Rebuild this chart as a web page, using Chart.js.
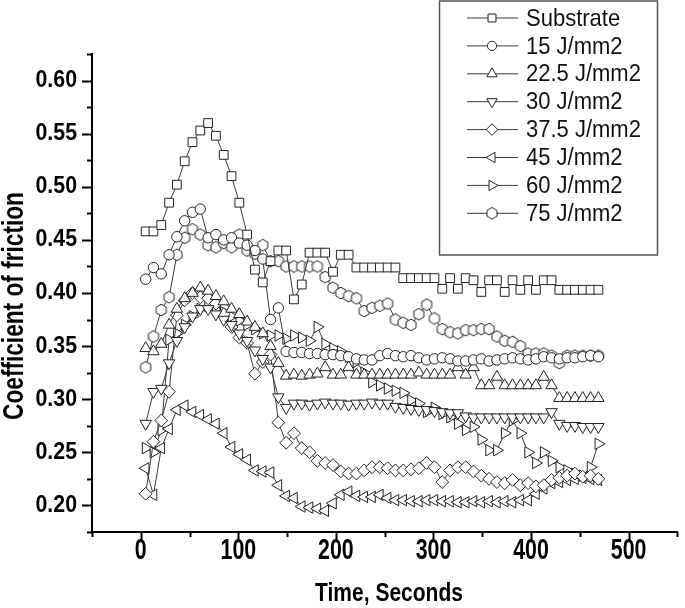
<!DOCTYPE html>
<html>
<head>
<meta charset="utf-8">
<title>Coefficient of friction</title>
<script src="https://cdn.jsdelivr.net/npm/chart.js@4.4.0/dist/chart.umd.min.js"></script>
<style>
  body { margin: 0; background: #fff; }
  canvas { display: block; }
</style>
</head>
<body>
<canvas id="myChart" width="685" height="608"></canvas>
<script>
// time axis (seconds)
const time = [5,13,21,29,37,45,53,61,69,77,85,93,101,109,117,125,133,141,149,157,165,173,181,189,197,205,213,221,229,237,245,253,261,269,277,285,293,301,309,317,325,333,341,349,357,365,373,381,389,397,405,413,421,429,437,445,453,461,469];

// series names
const seriesNames = ['Substrate', '15 J/mm2', '22.5 J/mm2', '30 J/mm2', '37.5 J/mm2', '45 J/mm2', '60 J/mm2', '75 J/mm2'];

// coefficient of friction values
const substrate = [0.458,0.458,0.464,0.485,0.502,0.524,0.542,0.553,0.560,0.548,0.530,0.510,0.485,0.455,0.422,0.410,0.430,0.440,0.440,0.394,0.408,0.438,0.438,0.438,0.420,0.436,0.436,0.424,0.424,0.424,0.424,0.424,0.424,0.414,0.414,0.414,0.414,0.414,0.404,0.414,0.404,0.414,0.412,0.401,0.412,0.412,0.401,0.412,0.403,0.412,0.403,0.412,0.412,0.403,0.403,0.403,0.403,0.403,0.403];
const j15 = [0.413,0.424,0.418,0.436,0.453,0.468,0.476,0.479,0.452,0.455,0.450,0.452,0.447,0.445,0.440,0.432,0.375,0.386,0.345,0.344,0.344,0.343,0.343,0.342,0.342,0.341,0.340,0.338,0.337,0.337,0.341,0.343,0.341,0.340,0.341,0.339,0.337,0.338,0.339,0.338,0.336,0.336,0.337,0.338,0.336,0.337,0.338,0.339,0.338,0.337,0.338,0.340,0.339,0.338,0.339,0.339,0.340,0.341,0.340];
const j22_5 = [0.348,0.345,0.352,0.370,0.385,0.395,0.400,0.405,0.402,0.397,0.392,0.385,0.380,0.373,0.368,0.362,0.350,0.334,0.322,0.323,0.322,0.323,0.324,0.330,0.323,0.323,0.330,0.323,0.323,0.323,0.323,0.323,0.323,0.323,0.323,0.325,0.323,0.323,0.323,0.323,0.330,0.323,0.330,0.313,0.313,0.321,0.313,0.313,0.313,0.313,0.313,0.321,0.313,0.301,0.301,0.301,0.301,0.301,0.301];
const j30 = [0.277,0.307,0.310,0.334,0.355,0.368,0.378,0.385,0.385,0.380,0.375,0.370,0.362,0.355,0.346,0.338,0.330,0.302,0.292,0.296,0.296,0.295,0.296,0.297,0.296,0.296,0.295,0.296,0.296,0.297,0.296,0.296,0.293,0.292,0.291,0.290,0.290,0.289,0.288,0.287,0.287,0.284,0.283,0.283,0.283,0.283,0.283,0.283,0.283,0.283,0.283,0.283,0.288,0.277,0.275,0.275,0.274,0.274,0.274];
const j37_5 = [0.211,0.260,0.280,0.307,0.379,0.393,0.400,0.396,0.395,0.390,0.380,0.368,0.358,0.353,0.324,0.335,0.342,0.278,0.259,0.268,0.254,0.250,0.242,0.240,0.238,0.232,0.230,0.230,0.233,0.236,0.236,0.235,0.233,0.233,0.234,0.235,0.240,0.236,0.222,0.233,0.236,0.236,0.232,0.228,0.225,0.222,0.221,0.224,0.219,0.221,0.218,0.219,0.224,0.226,0.228,0.230,0.227,0.228,0.225];
const j45 = [0.235,0.210,0.254,0.272,0.290,0.294,0.288,0.285,0.281,0.277,0.268,0.255,0.248,0.243,0.233,0.232,0.231,0.219,0.209,0.207,0.199,0.198,0.197,0.195,0.202,0.210,0.213,0.209,0.208,0.208,0.210,0.207,0.205,0.205,0.204,0.204,0.205,0.205,0.204,0.204,0.203,0.203,0.204,0.203,0.204,0.203,0.204,0.203,0.205,0.205,0.211,0.216,0.221,0.222,0.224,0.225,0.226,0.225,0.224];
const j60 = [0.254,0.250,0.271,0.356,0.362,0.370,0.378,0.385,0.388,0.385,0.382,0.378,0.374,0.370,0.366,0.362,0.360,0.360,0.357,0.360,0.358,0.355,0.368,0.352,0.348,0.345,0.340,0.335,0.325,0.316,0.313,0.310,0.308,0.306,0.299,0.296,0.288,0.292,0.286,0.283,0.277,0.271,0.274,0.262,0.252,0.252,0.268,0.280,0.268,0.250,0.240,0.250,0.242,0.236,0.233,0.230,0.228,0.236,0.258];
const j75 = [0.330,0.359,0.384,0.396,0.436,0.452,0.460,0.455,0.445,0.443,0.447,0.443,0.455,0.440,0.437,0.445,0.430,0.430,0.425,0.425,0.425,0.425,0.425,0.415,0.405,0.400,0.397,0.395,0.383,0.386,0.388,0.390,0.375,0.372,0.370,0.380,0.389,0.376,0.366,0.363,0.362,0.365,0.365,0.366,0.366,0.359,0.355,0.354,0.350,0.343,0.343,0.343,0.341,0.334,0.341,0.341,0.341,0.341,0.341];

const allValues = [substrate, j15, j22_5, j30, j37_5, j45, j60, j75];

// tick labels
const xTickLabels = [0, 100, 200, 300, 400, 500];
const yTickLabels = ['0.20', '0.25', '0.30', '0.35', '0.40', '0.45', '0.50', '0.55', '0.60'];

// hexagon marker for 75 J/mm2 (no built in style for it)
function makeHexagon(r) {
    const c = document.createElement('canvas');
    c.width = 2 * r + 3;
    c.height = 2 * r + 3;
    const g = c.getContext('2d');
    const cx = c.width / 2, cy = c.height / 2;
    g.beginPath();
    for (let i = 0; i < 6; i++) {
        const a = Math.PI / 3 * i;
        const px = cx + r * Math.sin(a);
        const py = cy - r * Math.cos(a);
        if (i === 0) g.moveTo(px, py); else g.lineTo(px, py);
    }
    g.closePath();
    g.fillStyle = '#fff';
    g.fill();
    g.lineWidth = 1;
    g.strokeStyle = '#222';
    g.stroke();
    return c;
}
const hexagon = makeHexagon(5.8);

// marker styles, same order as seriesNames
const markers = [
    { style: 'rect', rotation: 0, radius: 6.2 },
    { style: 'circle', rotation: 0, radius: 5.2 },
    { style: 'triangle', rotation: 0, radius: 6.6 },
    { style: 'triangle', rotation: 180, radius: 6.6 },
    { style: 'rectRot', rotation: 0, radius: 6.4 },
    { style: 'triangle', rotation: 270, radius: 6.6 },
    { style: 'triangle', rotation: 90, radius: 6.6 },
    { style: hexagon, rotation: 0, radius: 6 }
];

const datasets = seriesNames.map((name, i) => ({
    label: name,
    data: time.map((t, k) => ({ x: t, y: allValues[i][k] })),
    borderColor: '#3a3a3a',
    borderWidth: 1,
    pointStyle: markers[i].style,
    rotation: markers[i].rotation,
    pointRadius: markers[i].radius,
    pointHoverRadius: markers[i].radius,
    pointBorderColor: '#222',
    pointBackgroundColor: '#fff',
    pointBorderWidth: 1,
    tension: 0,
    fill: false
}));

const FONT = '"Liberation Sans", Arial, sans-serif';

// text that is a bit taller than the font (the original figure is stretched)
function stretchedText(ctx, text, x, y, font, sx, sy, align, angle) {
    ctx.save();
    ctx.translate(x, y);
    if (angle) ctx.rotate(angle);
    ctx.scale(sx, sy);
    ctx.font = font;
    ctx.textAlign = align;
    ctx.textBaseline = 'middle';
    ctx.fillText(text, 0, 0);
    ctx.restore();
}

// tick marks, tick labels, axis titles and the boxed legend
const extras = {
    id: 'extras',
    afterDraw(chart) {
        const ctx = chart.ctx;
        const xs = chart.scales.x;
        const ys = chart.scales.y;
        const area = chart.chartArea;
        ctx.save();
        ctx.strokeStyle = '#000';
        ctx.lineWidth = 2;

        // y ticks every 0.025, long ones on the labelled values
        for (let k = 0; k <= 18; k++) {
            const v = 0.175 + k * 0.025;
            const py = Math.round(ys.getPixelForValue(v)) + 0.5;
            const major = k % 2 === 1;
            ctx.beginPath();
            ctx.moveTo(area.left, py);
            ctx.lineTo(area.left - (major ? 10 : 5), py);
            ctx.stroke();
        }
        // x ticks every 50
        for (let v = -50; v <= 550; v += 50) {
            const px = Math.round(xs.getPixelForValue(v)) + 0.5;
            const major = v % 100 === 0;
            ctx.beginPath();
            ctx.moveTo(px, area.bottom);
            ctx.lineTo(px, area.bottom + (major ? 9 : 5));
            ctx.stroke();
        }

        ctx.fillStyle = '#000';
        // tick labels
        yTickLabels.forEach((lab) => {
            stretchedText(ctx, lab, area.left - 15, ys.getPixelForValue(parseFloat(lab)),
                'bold 22px ' + FONT, 0.97, 1.06, 'right', 0);
        });
        xTickLabels.forEach((lab) => {
            stretchedText(ctx, String(lab), xs.getPixelForValue(lab), area.bottom + 19,
                'bold 22px ' + FONT, 0.97, 1.35, 'center', 0);
        });

        // axis titles
        stretchedText(ctx, 'Time, Seconds', 389, 594, 'bold 22px ' + FONT, 0.955, 1.18, 'center', 0);
        stretchedText(ctx, 'Coefficient of friction', 15, 306, 'bold 22px ' + FONT, 1.03, 1.3, 'center', -Math.PI / 2);

        // legend box
        ctx.strokeStyle = '#555';
        ctx.lineWidth = 1.5;
        ctx.strokeRect(439.5, 1, 218, 254);
        for (let i = 0; i < seriesNames.length; i++) {
            const cy = 18 + i * 27.9;
            ctx.strokeStyle = '#3a3a3a';
            ctx.lineWidth = 1;
            ctx.beginPath();
            ctx.moveTo(467, cy);
            ctx.lineTo(518, cy);
            ctx.stroke();
            ctx.fillStyle = '#fff';
            ctx.strokeStyle = '#222';
            Chart.helpers.drawPoint(ctx, {
                pointStyle: markers[i].style,
                rotation: markers[i].rotation,
                radius: markers[i].radius - 0.6,
                borderWidth: 1
            }, 492, cy);
            ctx.fillStyle = '#111';
            stretchedText(ctx, seriesNames[i], 526, cy + 1, '22px ' + FONT, 1.0, 1.1, 'left', 0);
        }
        ctx.restore();
    }
};

const ctx = document.getElementById('myChart').getContext('2d');
const myChart = new Chart(ctx, {
    type: 'line',
    data: { datasets: datasets },
    options: {
        responsive: false,
        animation: false,
        devicePixelRatio: 1,
        layout: { padding: { top: 54, right: 0, left: 0, bottom: 0 } },
        plugins: {
            legend: { display: false },
            tooltip: { enabled: false }
        },
        scales: {
            x: {
                type: 'linear',
                min: -50,
                max: 550,
                grid: { display: false, drawTicks: false },
                border: { display: true, color: '#000', width: 2 },
                ticks: { display: false },
                afterFit: (scale) => { scale.height = 76; }
            },
            y: {
                type: 'linear',
                min: 0.175,
                max: 0.625,
                grid: { display: false, drawTicks: false },
                border: { display: true, color: '#000', width: 2 },
                ticks: { display: false },
                afterFit: (scale) => { scale.width = 92; }
            }
        }
    },
    plugins: [extras]
});
</script>
</body>
</html>
